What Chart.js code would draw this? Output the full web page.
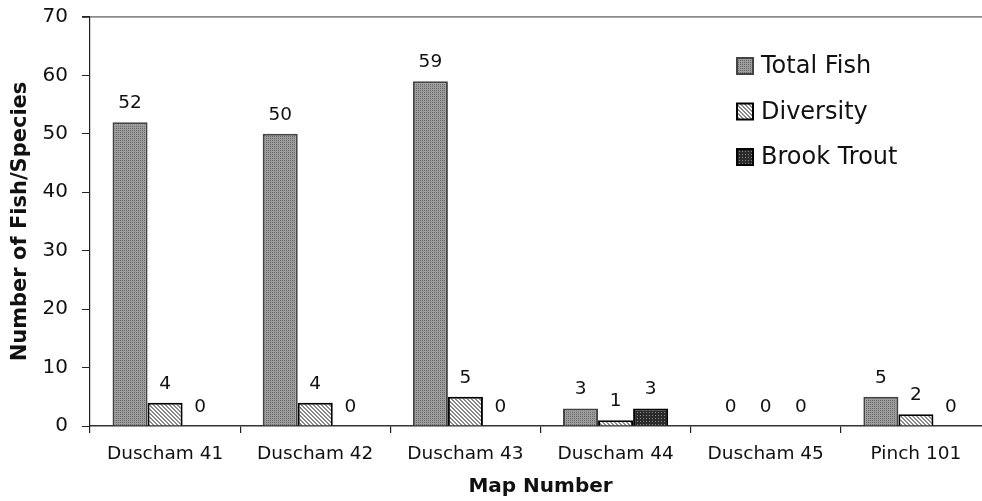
<!DOCTYPE html>
<html>
<head>
<meta charset="utf-8">
<script src="https://cdn.jsdelivr.net/npm/chart.js@4"></script>
<style>
  html, body { margin: 0; padding: 0; background: #fff; overflow: hidden; }
  #wrap { width: 1000px; height: 501px; }
</style>
</head>
<body>
<div id="wrap"><canvas id="c" width="1000" height="501"></canvas></div>
<script>
// Fish survey results per map site
const categories = ['Duscham 41', 'Duscham 42', 'Duscham 43', 'Duscham 44', 'Duscham 45', 'Pinch 101'];
const totalFish  = [52, 50, 59, 3, 0, 5];
const diversity  = [4, 4, 5, 1, 0, 2];
const brookTrout = [0, 0, 0, 3, 0, 0];
const seriesNames = ['Total Fish', 'Diversity', 'Brook Trout'];
const yMax = 70;
const yStep = 10;

const FONT = '"DejaVu Sans", Verdana, sans-serif';
const INK = '#111';

// Small repeating fills for the bars
function makePattern(size, bg, fg, dots) {
  const t = document.createElement('canvas');
  t.width = size; t.height = size;
  const g = t.getContext('2d');
  g.fillStyle = bg; g.fillRect(0, 0, size, size);
  g.fillStyle = fg;
  dots.forEach(([x, y]) => g.fillRect(x, y, 1, 1));
  return g.createPattern(t, 'repeat');
}
const ctx = document.getElementById('c').getContext('2d');
const fillTotal = makePattern(4, '#9c9c9c', '#6a6a6a', [[0,0],[2,2],[2,0],[0,2]]);
const fillDiv   = makePattern(4, '#ffffff', '#8a8a8a', [[0,0],[1,1],[2,2],[3,3],[1,0],[2,1],[3,2],[0,3]]);
const fillBrook = makePattern(3, '#2a2a2a', '#8a8a8a', [[1,1]]);

// Numbers printed above each bar
const valueLabels = {
  id: 'valueLabels',
  afterDatasetsDraw(chart) {
    const c = chart.ctx;
    c.save();
    c.font = '18.5px ' + FONT;
    c.fillStyle = INK;
    c.textAlign = 'center';
    c.textBaseline = 'alphabetic';
    chart.data.datasets.forEach((ds, i) => {
      chart.getDatasetMeta(i).data.forEach((bar, j) => {
        c.fillText(String(ds.data[j]), bar.x, bar.y - 14);
      });
    });
    c.restore();
  }
};

// Legend drawn inside the plot area, top right
const innerLegend = {
  id: 'innerLegend',
  afterDraw(chart) {
    const c = chart.ctx;
    const x0 = 737, y0 = 66, gap = 45.5, box = 16;
    c.save();
    c.font = '24px ' + FONT;
    c.textBaseline = 'middle';
    chart.data.datasets.forEach((ds, i) => {
      const y = y0 + i * gap;
      c.fillStyle = ds.backgroundColor;
      c.fillRect(x0, y - box / 2, box, box);
      c.lineWidth = 2;
      c.strokeStyle = ds.borderColor;
      c.strokeRect(x0, y - box / 2, box, box);
      c.fillStyle = INK;
      c.textAlign = 'left';
      c.fillText(ds.label, x0 + 24, y + 1);
    });
    c.restore();
  }
};

new Chart(ctx, {
  type: 'bar',
  data: {
    labels: categories,
    datasets: [
      { label: seriesNames[0], data: totalFish,  backgroundColor: fillTotal, borderColor: '#444', borderWidth: 2 },
      { label: seriesNames[1], data: diversity,  backgroundColor: fillDiv,   borderColor: '#000', borderWidth: 2 },
      { label: seriesNames[2], data: brookTrout, backgroundColor: fillBrook, borderColor: '#000', borderWidth: 2 }
    ]
  },
  options: {
    responsive: false,
    animation: false,
    devicePixelRatio: 1,
    layout: { autoPadding: false, padding: { top: 17, right: 9, bottom: 0, left: 0 } },
    datasets: { bar: { categoryPercentage: 0.7, barPercentage: 1.0 } },
    plugins: { legend: { display: false }, tooltip: { enabled: false } },
    scales: {
      x: {
        offset: true,
        grid: { offset: true, drawOnChartArea: false, drawTicks: true, tickLength: 7, tickColor: '#222', lineWidth: 1.2 },
        border: { display: true, color: '#333', width: 1.5 },
        ticks: { color: INK, font: { family: FONT, size: 18.5 }, padding: 10, maxRotation: 0, autoSkip: false },
        title: { display: true, text: 'Map Number', color: INK, font: { family: FONT, size: 20, weight: 'bold' }, padding: { top: 0, bottom: 2 } },
        afterFit(scale) { scale.height = 75; }
      },
      y: {
        min: 0, max: yMax,
        grid: {
          drawOnChartArea: true,
          color: (c) => (c.tick && c.tick.value === yMax ? '#8a8a8a' : 'rgba(0,0,0,0)'),
          lineWidth: (c) => (c.tick && c.tick.value === yMax ? 1.8 : 1),
          drawTicks: true, tickLength: 8, tickColor: '#222'
        },
        border: { display: true, color: '#222', width: 1.2 },
        ticks: { stepSize: yStep, color: INK, font: { family: FONT, size: 20 }, padding: 14 },
        title: { display: true, text: 'Number of Fish/Species', color: INK, font: { family: FONT, size: 21, weight: 'bold' }, padding: { top: 8, bottom: 0 } },
        afterFit(scale) { scale.width = 90; scale.paddingTop = 0; scale.paddingBottom = 0; }
      }
    }
  },
  plugins: [valueLabels, innerLegend]
});
</script>
</body>
</html>
